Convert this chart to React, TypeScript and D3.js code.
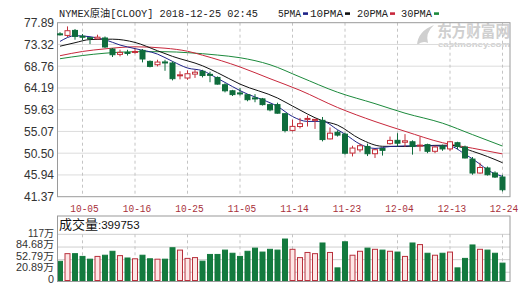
import React from "react";
import * as d3 from "d3";

const dates = [
  "10-02","10-03","10-04","10-05","10-08","10-09","10-10","10-11","10-12","10-15",
  "10-16","10-17","10-18","10-19","10-22","10-23","10-24","10-25","10-26","10-29",
  "10-30","10-31","11-01","11-02","11-05","11-06","11-07","11-08","11-09","11-12",
  "11-13","11-14","11-15","11-16","11-19","11-20","11-21","11-22","11-23","11-26",
  "11-27","11-28","11-29","11-30","12-03","12-04","12-05","12-06","12-07","12-10",
  "12-11","12-12","12-13","12-14","12-17","12-18","12-19","12-20","12-21","12-24",
];
const opens = [
  75.55,75.22,76.27,75.05,74.75,74.50,74.68,72.37,71.24,71.65,
  71.70,72.08,69.77,69.07,69.65,69.43,66.85,66.28,67.10,67.70,
  67.05,66.40,64.87,63.60,63.15,62.77,62.10,61.90,60.70,60.70,
  58.79,55.28,56.10,57.70,57.40,57.40,53.50,54.90,54.50,50.53,
  51.20,51.92,50.39,51.50,52.50,53.20,52.80,52.90,52.00,52.30,
  50.90,52.00,51.40,52.70,51.80,49.27,46.34,47.40,46.34,45.50,
];
const closes = [
  75.45,76.21,75.01,74.90,74.65,74.85,72.79,71.17,71.65,71.55,
  71.85,70.27,68.72,69.63,69.50,66.14,66.95,67.18,67.50,66.80,
  66.95,65.00,63.60,62.80,63.05,61.73,62.00,60.70,59.60,58.90,
  55.28,56.13,56.70,57.80,57.60,53.36,54.70,54.30,50.50,51.58,
  52.07,50.39,51.23,51.10,53.18,52.60,53.10,51.90,52.20,50.90,
  51.80,51.40,52.90,51.90,49.50,46.34,47.50,45.98,45.50,42.83,
];
const highs = [
  75.90,77.11,76.57,75.52,74.80,75.37,75.00,72.58,72.22,72.20,
  72.40,72.37,69.97,70.12,70.10,69.77,67.70,67.90,68.00,68.00,
  67.60,66.60,65.20,63.80,64.20,62.90,62.90,62.10,60.90,61.10,
  58.93,57.53,57.90,58.40,57.70,58.10,55.90,55.30,54.80,52.07,
  52.50,52.50,51.37,51.60,54.00,54.70,54.50,53.20,54.00,52.50,
  52.10,52.30,53.10,52.90,52.10,49.70,48.50,47.70,46.70,45.98,
];
const lows = [
  75.20,74.89,74.32,74.20,73.40,74.40,72.58,70.69,70.82,71.00,
  71.40,69.56,68.51,68.72,67.80,65.78,66.00,65.90,66.30,66.40,
  65.40,64.90,63.26,62.50,62.60,61.40,61.20,60.50,59.30,58.80,
  54.86,55.07,55.70,56.10,55.60,52.98,53.40,54.00,50.20,49.82,
  50.70,49.90,49.50,50.00,52.30,51.90,51.80,50.20,50.90,50.50,
  50.50,51.00,51.00,51.30,49.40,45.98,46.20,45.80,45.30,42.47,
];
// volume in 万
const volumes = [
  48.6,68,68,61,54,61,64,74,63,57,
  55,64,55,54,54,83,77,56,58,49,
  66,66,77,69,61,74,82,72,79,77,
  105,79,58,71,68,95,71,32,98,64,
  74,82,79,77,74,72,61,95,91,69,
  64,69,72,32,56,90,79,77,69,44,
];

const priceTicks = [77.89, 73.32, 68.76, 64.19, 59.63, 55.07, 50.5, 45.94, 41.37];
const priceTickLabels = ["77.89","73.32","68.76","64.19","59.63","55.07","50.50","45.94","41.37"];
const volTicks = [117, 84.68, 52.79, 20.89, 0];
const volTickLabels = ["117万","84.68万","52.79万","20.89万","0"];
const xTickLabels = ["10-05","10-16","10-25","11-05","11-14","11-23","12-04","12-13","12-24"];

// moving averages: [candle index, value]
const ma5: [number, number][] = [
  [0,73.96],[2,75.16],[4,74.95],[6,74.32],[8,73.2],[10,72.45],[13,71.3],[15,69.77],[17,68.38],
  [19,67.81],[21,66.2],[25,62.9],[27,61.73],[29,60.32],[31,58.2],[33,57.17],[35,57.17],
  [37,55.43],[38,54.5],[40,52.4],[42,51.5],[44,51.9],[48,52.07],[52,51.95],[54,50.3],
  [56,48.2],[57,47.0],[59,45.63],
];
const ma10: [number, number][] = [
  [0,72.96],[2,73.69],[4,74.35],[7,74.43],[10,73.75],[13,72.0],[15,70.82],[19,68.85],
  [21,67.39],[24,65.0],[29,62.08],[31,60.4],[35,57.3],[37,56.4],[40,53.5],[43,51.95],
  [46,51.9],[48,52.05],[52,52.18],[55,50.9],[57,49.8],[59,48.5],
];
const ma20: [number, number][] = [
  [0,70.96],[3,71.85],[6,72.4],[10,72.83],[14,72.54],[17,71.9],[19,71.07],[24,68.6],
  [28,66.14],[32,63.7],[37,60.1],[42,57.15],[46,55.1],[51,52.7],[55,51.55],[59,50.35],
];
const ma30: [number, number][] = [
  [0,70.33],[3,71.0],[6,71.49],[10,71.8],[14,71.8],[17,71.6],[21,71.1],[24,70.54],
  [28,69.07],[32,66.5],[37,63.3],[42,60.9],[46,58.9],[51,56.8],[55,54.4],[59,52.0],
];

const legendNames = ["5PMA", "10PMA", "20PMA", "30PMA"];
const legendColors = ["#1e2388", "#111111", "#c8283c", "#1c8a3c"];

const UP = "#c42f3a";
const DOWN = "#0f6c3c";

export default function App() {
  const W = 522, H = 285;
  const L = 57.5, R = 510, T = 22.7, B = 196.7;
  const VT = 216, VG = 234.3, VB = 280.5;

  const x = d3.scaleBand<string>().domain(dates).range([56.25, 506.25]).padding(0);
  const cx = (i: number) => (x(dates[i]) as number) + x.bandwidth() / 2;
  const y = d3.scaleLinear().domain([41.37, 77.89]).range([B, T]);
  const vy = d3.scaleLinear().domain([0, 117]).range([VB, VG]);

  const line = d3
    .line<[number, number]>()
    .x((d) => cx(d[0]))
    .y((d) => y(d[1]))
    .curve(d3.curveMonotoneX);

  const monoFont = "'Liberation Mono','Noto Sans CJK SC',monospace";
  const sansFont = "'Liberation Sans','Noto Sans CJK SC',sans-serif";

  const legendX = [278, 310, 357, 401];
  const legendW = [23, 33, 31, 31];
  const volLabelY = [233, 244.5, 256, 267.5, 279];

  return (
    <svg
      width={W}
      height={H}
      style={{ position: "absolute", left: 0, top: 0, background: "#fff" }}
    >
      <rect x={0} y={0} width={W} height={H} fill="#fff" />

      {/* Title */}
      <text
        x={59}
        y={16.5}
        fontFamily={monoFont}
        fontSize={10.5}
        fill="#222"
        textLength={199}
        lengthAdjust="spacingAndGlyphs"
      >
        NYMEX原油[CLOOY] 2018-12-25 02:45
      </text>

      {/* Legend */}
      {legendNames.map((n, k) => (
        <g key={n}>
          <text
            x={legendX[k]}
            y={16.5}
            fontFamily={monoFont}
            fontSize={10.5}
            fill="#222"
            textLength={legendW[k]}
            lengthAdjust="spacingAndGlyphs"
          >
            {n}
          </text>
          <rect x={legendX[k] + legendW[k] + 2} y={12.3} width={5} height={2.6} fill={legendColors[k]} />
        </g>
      ))}

      {/* Watermark */}
      <g fill="#cfcfcf">
        <path d="M417,45 Q418,31 434,25 Q425,33 428,43 Q423,40 417,45 Z" />
        <text x={437} y={37} fontFamily={sansFont} fontSize={16} fontWeight="bold" textLength={73} lengthAdjust="spacingAndGlyphs">
          东方财富网
        </text>
        <text x={438} y={47} fontFamily={sansFont} fontSize={8} fontWeight="bold" textLength={72} lengthAdjust="spacingAndGlyphs">
          eastmoney.com
        </text>
      </g>

      {/* Price grid */}
      {priceTicks.map((t, k) =>
        k > 0 && k < priceTicks.length - 1 ? (
          <line key={"hg" + k} x1={L} x2={R} y1={y(t)} y2={y(t)} stroke="#dcdcdc" strokeWidth={1} />
        ) : null
      )}
      {xTickLabels.map((d) => (
        <line
          key={"vg" + d}
          x1={cx(dates.indexOf(d))}
          x2={cx(dates.indexOf(d))}
          y1={T}
          y2={B}
          stroke="#c4c4c4"
          strokeDasharray="3,3"
        />
      ))}
      <rect x={L} y={T} width={R - L} height={B - T} fill="none" stroke="#9a9a9a" strokeWidth={1} />

      {/* Price labels */}
      {priceTicks.map((t, k) => (
        <text
          key={"pl" + k}
          x={54}
          y={y(t)}
          dy="0.36em"
          textAnchor="end"
          fontFamily={sansFont}
          fontSize={12}
          fill="#333"
        >
          {priceTickLabels[k]}
        </text>
      ))}

      {/* MA lines */}
      <path d={line(ma30) || ""} fill="none" stroke="#1c8a3c" strokeWidth={1} />
      <path d={line(ma20) || ""} fill="none" stroke="#c8283c" strokeWidth={1} />
      <path d={line(ma10) || ""} fill="none" stroke="#111" strokeWidth={1} />
      <path d={line(ma5) || ""} fill="none" stroke="#1e2388" strokeWidth={1} />

      {/* Candles */}
      {dates.map((d, i) => {
        const o = opens[i], c = closes[i], h = highs[i], l = lows[i];
        const up = c >= o;
        const col = up ? UP : DOWN;
        const xc = cx(i);
        const top = y(Math.max(o, c));
        const bot = y(Math.min(o, c));
        const bh = Math.max(1, bot - top);
        return (
          <g key={"c" + d}>
            <line x1={xc} x2={xc} y1={y(h)} y2={y(l)} stroke={col} strokeWidth={1} />
            <rect
              x={xc - 2.5}
              y={top}
              width={5}
              height={bh}
              fill={up ? "#fff" : col}
              stroke={col}
              strokeWidth={1}
            />
          </g>
        );
      })}

      {/* X labels */}
      {xTickLabels.map((d, k) => (
        <text
          key={"xl" + d}
          x={cx(dates.indexOf(d)) + (k === xTickLabels.length - 1 ? 1.5 : 2)}
          y={212}
          textAnchor="middle"
          fontFamily={monoFont}
          fontSize={11}
          fill="#a8303a"
          textLength={28.5}
          lengthAdjust="spacingAndGlyphs"
        >
          {d}
        </text>
      ))}

      {/* Volume panel */}
      {volTicks.map((t, k) =>
        t > 0 ? (
          <line key={"vh" + k} x1={L} x2={R} y1={vy(t)} y2={vy(t)} stroke="#cfcfcf" strokeWidth={1} />
        ) : null
      )}
      {xTickLabels.map((d) => (
        <line
          key={"vvg" + d}
          x1={cx(dates.indexOf(d))}
          x2={cx(dates.indexOf(d))}
          y1={VG}
          y2={VB}
          stroke="#c4c4c4"
          strokeDasharray="3,3"
        />
      ))}
      {volumes.map((v, i) => {
        const up = closes[i] >= opens[i];
        const xc = cx(i);
        return (
          <rect
            key={"v" + i}
            x={xc - 2.5}
            y={vy(v)}
            width={5}
            height={vy(0) - vy(v)}
            fill={up ? "#fde6e6" : "#137a3e"}
            stroke={up ? "#b8303c" : "#137a3e"}
            strokeWidth={1}
          />
        );
      })}
      <rect x={L} y={VT} width={R - L} height={VB + 1 - VT} fill="none" stroke="#9a9a9a" strokeWidth={1} />
      <text x={59} y={228.5} fontFamily={sansFont} fill="#111">
        <tspan fontSize={13}>成交量</tspan>
        <tspan fontSize={11.5}>:399753</tspan>
      </text>
      {volTicks.map((t, k) => (
        <text
          key={"vl" + k}
          x={54}
          y={volLabelY[k]}
          dy="0.34em"
          textAnchor="end"
          fontFamily={sansFont}
          fontSize={10.5}
          textLength={k === 0 ? 26 : k === 4 ? 6 : 38}
          lengthAdjust="spacingAndGlyphs"
          fill="#333"
        >
          {volTickLabels[k]}
        </text>
      ))}
    </svg>
  );
}
